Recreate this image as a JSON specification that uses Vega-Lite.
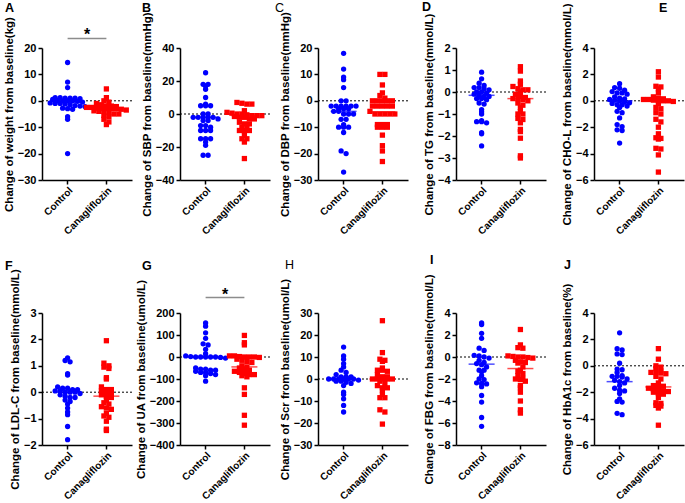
{
"$schema":"https://vega.github.io/schema/vega-lite/v6.json",
"padding":{"left":3,"top":0,"right":0,"bottom":0},
"background":"white",
"config":{
 "view":{"stroke":null},
 "axis":{"grid":false,"labelOverlap":false,"domainColor":"black","domainWidth":1.5,"tickColor":"black","tickWidth":1.5,"tickSize":4,"labelFont":"Liberation Sans","labelFontSize":11,"labelFontWeight":"bold","labelColor":"black","labelPadding":2,"titleFont":"Liberation Sans","titleFontSize":11.5,"titleFontWeight":"bold","titleColor":"black","titlePadding":3},
 "axisX":{"labelAngle":-45,"labelFontSize":10,"labelPadding":1},
 "title":{"anchor":"start","frame":"group","baseline":"alphabetic","font":"Liberation Sans","fontSize":12.5,"fontWeight":"bold","color":"black"},
 "point":{"filled":true,"size":28,"opacity":1},
 "tick":{"thickness":1.5,"size":26}
},
"datasets":{
"A":[{"g":"Control","v":14.5},{"g":"Control","v":7.1},{"g":"Control","v":5},{"g":"Control","v":1.2},{"g":"Control","v":1.2},{"g":"Control","v":1},{"g":"Control","v":1},{"g":"Control","v":1},{"g":"Control","v":0.8},{"g":"Control","v":0.5},{"g":"Control","v":0.2},{"g":"Control","v":0},{"g":"Control","v":0},{"g":"Control","v":0},{"g":"Control","v":-0.2},{"g":"Control","v":-0.5},{"g":"Control","v":-0.8},{"g":"Control","v":-1},{"g":"Control","v":-1},{"g":"Control","v":-1.2},{"g":"Control","v":-1.5},{"g":"Control","v":-1.8},{"g":"Control","v":-2},{"g":"Control","v":-2.2},{"g":"Control","v":-2.8},{"g":"Control","v":-3},{"g":"Control","v":-3.2},{"g":"Control","v":-6},{"g":"Control","v":-7},{"g":"Control","v":-20},
{"g":"Canagliflozin","v":4.5},{"g":"Canagliflozin","v":1.2},{"g":"Canagliflozin","v":0},{"g":"Canagliflozin","v":-0.5},{"g":"Canagliflozin","v":-1},{"g":"Canagliflozin","v":-1.5},{"g":"Canagliflozin","v":-2},{"g":"Canagliflozin","v":-2},{"g":"Canagliflozin","v":-2.2},{"g":"Canagliflozin","v":-2.5},{"g":"Canagliflozin","v":-2.5},{"g":"Canagliflozin","v":-2.8},{"g":"Canagliflozin","v":-3},{"g":"Canagliflozin","v":-3},{"g":"Canagliflozin","v":-3},{"g":"Canagliflozin","v":-3},{"g":"Canagliflozin","v":-3.2},{"g":"Canagliflozin","v":-3.5},{"g":"Canagliflozin","v":-3.8},{"g":"Canagliflozin","v":-4},{"g":"Canagliflozin","v":-4},{"g":"Canagliflozin","v":-4.5},{"g":"Canagliflozin","v":-5},{"g":"Canagliflozin","v":-5},{"g":"Canagliflozin","v":-5.5},{"g":"Canagliflozin","v":-6},{"g":"Canagliflozin","v":-7},{"g":"Canagliflozin","v":-8},{"g":"Canagliflozin","v":-9}],
"Am":[{"g":"Control","v":-0.5},{"g":"Canagliflozin","v":-3}],
"B":[{"g":"Control","v":25},{"g":"Control","v":18},{"g":"Control","v":18},{"g":"Control","v":17},{"g":"Control","v":15},{"g":"Control","v":10},{"g":"Control","v":6},{"g":"Control","v":5},{"g":"Control","v":5},{"g":"Control","v":5},{"g":"Control","v":0},{"g":"Control","v":0},{"g":"Control","v":-2},{"g":"Control","v":-2},{"g":"Control","v":-2},{"g":"Control","v":-2},{"g":"Control","v":-2},{"g":"Control","v":-3},{"g":"Control","v":-4},{"g":"Control","v":-4},{"g":"Control","v":-7},{"g":"Control","v":-7},{"g":"Control","v":-8},{"g":"Control","v":-10},{"g":"Control","v":-10},{"g":"Control","v":-10},{"g":"Control","v":-15},{"g":"Control","v":-15},{"g":"Control","v":-15},{"g":"Control","v":-17},{"g":"Control","v":-19},{"g":"Control","v":-25},{"g":"Control","v":-25},
{"g":"Canagliflozin","v":7},{"g":"Canagliflozin","v":6.5},{"g":"Canagliflozin","v":6},{"g":"Canagliflozin","v":6},{"g":"Canagliflozin","v":2},{"g":"Canagliflozin","v":1},{"g":"Canagliflozin","v":0.5},{"g":"Canagliflozin","v":0},{"g":"Canagliflozin","v":0},{"g":"Canagliflozin","v":-0.5},{"g":"Canagliflozin","v":-1},{"g":"Canagliflozin","v":-1},{"g":"Canagliflozin","v":-1},{"g":"Canagliflozin","v":-1.5},{"g":"Canagliflozin","v":-2},{"g":"Canagliflozin","v":-2},{"g":"Canagliflozin","v":-3},{"g":"Canagliflozin","v":-3},{"g":"Canagliflozin","v":-5},{"g":"Canagliflozin","v":-6},{"g":"Canagliflozin","v":-6},{"g":"Canagliflozin","v":-8},{"g":"Canagliflozin","v":-8},{"g":"Canagliflozin","v":-10},{"g":"Canagliflozin","v":-10},{"g":"Canagliflozin","v":-10},{"g":"Canagliflozin","v":-13},{"g":"Canagliflozin","v":-15},{"g":"Canagliflozin","v":-15},{"g":"Canagliflozin","v":-17},{"g":"Canagliflozin","v":-27}],
"Bm":[{"g":"Control","v":-2},{"g":"Canagliflozin","v":-1}],
"C":[{"g":"Control","v":18},{"g":"Control","v":12},{"g":"Control","v":9},{"g":"Control","v":8},{"g":"Control","v":5},{"g":"Control","v":0},{"g":"Control","v":0},{"g":"Control","v":-2},{"g":"Control","v":-2},{"g":"Control","v":-2},{"g":"Control","v":-2},{"g":"Control","v":-2},{"g":"Control","v":-2},{"g":"Control","v":-3},{"g":"Control","v":-3},{"g":"Control","v":-3},{"g":"Control","v":-4},{"g":"Control","v":-4},{"g":"Control","v":-5},{"g":"Control","v":-5},{"g":"Control","v":-5},{"g":"Control","v":-7},{"g":"Control","v":-7},{"g":"Control","v":-9},{"g":"Control","v":-10},{"g":"Control","v":-10},{"g":"Control","v":-10},{"g":"Control","v":-12},{"g":"Control","v":-19},{"g":"Control","v":-20},{"g":"Control","v":-27},
{"g":"Canagliflozin","v":10},{"g":"Canagliflozin","v":10},{"g":"Canagliflozin","v":6},{"g":"Canagliflozin","v":3},{"g":"Canagliflozin","v":2},{"g":"Canagliflozin","v":1},{"g":"Canagliflozin","v":0},{"g":"Canagliflozin","v":0},{"g":"Canagliflozin","v":0},{"g":"Canagliflozin","v":0},{"g":"Canagliflozin","v":0},{"g":"Canagliflozin","v":-2},{"g":"Canagliflozin","v":-2},{"g":"Canagliflozin","v":-2},{"g":"Canagliflozin","v":-2},{"g":"Canagliflozin","v":-2},{"g":"Canagliflozin","v":-4},{"g":"Canagliflozin","v":-5},{"g":"Canagliflozin","v":-5},{"g":"Canagliflozin","v":-5},{"g":"Canagliflozin","v":-5},{"g":"Canagliflozin","v":-5},{"g":"Canagliflozin","v":-9},{"g":"Canagliflozin","v":-9},{"g":"Canagliflozin","v":-9},{"g":"Canagliflozin","v":-10},{"g":"Canagliflozin","v":-10},{"g":"Canagliflozin","v":-10},{"g":"Canagliflozin","v":-13},{"g":"Canagliflozin","v":-17},{"g":"Canagliflozin","v":-19},{"g":"Canagliflozin","v":-23}],
"Cm":[{"g":"Control","v":-4},{"g":"Canagliflozin","v":-4.2}],
"D":[{"g":"Control","v":0.9},{"g":"Control","v":0.6},{"g":"Control","v":0.4},{"g":"Control","v":0.3},{"g":"Control","v":0.2},{"g":"Control","v":0.2},{"g":"Control","v":0.15},{"g":"Control","v":0.1},{"g":"Control","v":0},{"g":"Control","v":0},{"g":"Control","v":-0.05},{"g":"Control","v":-0.1},{"g":"Control","v":-0.15},{"g":"Control","v":-0.2},{"g":"Control","v":-0.2},{"g":"Control","v":-0.3},{"g":"Control","v":-0.3},{"g":"Control","v":-0.35},{"g":"Control","v":-0.5},{"g":"Control","v":-0.55},{"g":"Control","v":-0.8},{"g":"Control","v":-0.9},{"g":"Control","v":-1.0},{"g":"Control","v":-1.3},{"g":"Control","v":-1.35},{"g":"Control","v":-1.35},{"g":"Control","v":-1.4},{"g":"Control","v":-1.85},{"g":"Control","v":-1.9},{"g":"Control","v":-2.45},
{"g":"Canagliflozin","v":1.15},{"g":"Canagliflozin","v":0.95},{"g":"Canagliflozin","v":0.5},{"g":"Canagliflozin","v":0.35},{"g":"Canagliflozin","v":0.25},{"g":"Canagliflozin","v":0.15},{"g":"Canagliflozin","v":0.1},{"g":"Canagliflozin","v":0.1},{"g":"Canagliflozin","v":0},{"g":"Canagliflozin","v":-0.1},{"g":"Canagliflozin","v":-0.2},{"g":"Canagliflozin","v":-0.25},{"g":"Canagliflozin","v":-0.3},{"g":"Canagliflozin","v":-0.3},{"g":"Canagliflozin","v":-0.35},{"g":"Canagliflozin","v":-0.4},{"g":"Canagliflozin","v":-0.5},{"g":"Canagliflozin","v":-0.6},{"g":"Canagliflozin","v":-0.7},{"g":"Canagliflozin","v":-0.9},{"g":"Canagliflozin","v":-1.0},{"g":"Canagliflozin","v":-1.0},{"g":"Canagliflozin","v":-1.2},{"g":"Canagliflozin","v":-1.25},{"g":"Canagliflozin","v":-1.4},{"g":"Canagliflozin","v":-1.7},{"g":"Canagliflozin","v":-1.8},{"g":"Canagliflozin","v":-2.1},{"g":"Canagliflozin","v":-2.9},{"g":"Canagliflozin","v":-3.0}],
"Dm":[{"g":"Control","v":-0.15},{"g":"Canagliflozin","v":-0.3}],
"E":[{"g":"Control","v":1.3},{"g":"Control","v":1.0},{"g":"Control","v":0.95},{"g":"Control","v":0.8},{"g":"Control","v":0.7},{"g":"Control","v":0.6},{"g":"Control","v":0.6},{"g":"Control","v":0.5},{"g":"Control","v":0.3},{"g":"Control","v":0.2},{"g":"Control","v":0.15},{"g":"Control","v":0.1},{"g":"Control","v":0.05},{"g":"Control","v":0},{"g":"Control","v":-0.1},{"g":"Control","v":-0.15},{"g":"Control","v":-0.2},{"g":"Control","v":-0.3},{"g":"Control","v":-0.3},{"g":"Control","v":-0.4},{"g":"Control","v":-0.5},{"g":"Control","v":-0.8},{"g":"Control","v":-0.9},{"g":"Control","v":-1.3},{"g":"Control","v":-1.8},{"g":"Control","v":-1.95},{"g":"Control","v":-2.2},{"g":"Control","v":-2.25},{"g":"Control","v":-3.2},
{"g":"Canagliflozin","v":2.2},{"g":"Canagliflozin","v":1.8},{"g":"Canagliflozin","v":1.1},{"g":"Canagliflozin","v":1.05},{"g":"Canagliflozin","v":0.9},{"g":"Canagliflozin","v":0.6},{"g":"Canagliflozin","v":0.3},{"g":"Canagliflozin","v":0.2},{"g":"Canagliflozin","v":0.15},{"g":"Canagliflozin","v":0.1},{"g":"Canagliflozin","v":0.1},{"g":"Canagliflozin","v":0.05},{"g":"Canagliflozin","v":0.05},{"g":"Canagliflozin","v":0},{"g":"Canagliflozin","v":0},{"g":"Canagliflozin","v":-0.05},{"g":"Canagliflozin","v":-0.2},{"g":"Canagliflozin","v":-0.5},{"g":"Canagliflozin","v":-0.6},{"g":"Canagliflozin","v":-0.9},{"g":"Canagliflozin","v":-1.0},{"g":"Canagliflozin","v":-1.4},{"g":"Canagliflozin","v":-1.6},{"g":"Canagliflozin","v":-2.0},{"g":"Canagliflozin","v":-2.5},{"g":"Canagliflozin","v":-2.8},{"g":"Canagliflozin","v":-2.85},{"g":"Canagliflozin","v":-2.9},{"g":"Canagliflozin","v":-3.6},{"g":"Canagliflozin","v":-3.65},{"g":"Canagliflozin","v":-4.1},{"g":"Canagliflozin","v":-5.4}],
"Em":[{"g":"Control","v":0},{"g":"Canagliflozin","v":0.05}],
"F":[{"g":"Control","v":1.3},{"g":"Control","v":1.2},{"g":"Control","v":1.15},{"g":"Control","v":0.7},{"g":"Control","v":0.65},{"g":"Control","v":0.2},{"g":"Control","v":0.15},{"g":"Control","v":0.15},{"g":"Control","v":0.1},{"g":"Control","v":0.1},{"g":"Control","v":0.05},{"g":"Control","v":0.05},{"g":"Control","v":0},{"g":"Control","v":0},{"g":"Control","v":0},{"g":"Control","v":-0.05},{"g":"Control","v":-0.1},{"g":"Control","v":-0.15},{"g":"Control","v":-0.2},{"g":"Control","v":-0.2},{"g":"Control","v":-0.3},{"g":"Control","v":-0.35},{"g":"Control","v":-0.45},{"g":"Control","v":-0.6},{"g":"Control","v":-0.75},{"g":"Control","v":-0.85},{"g":"Control","v":-1.3},{"g":"Control","v":-1.8},
{"g":"Canagliflozin","v":1.95},{"g":"Canagliflozin","v":1.1},{"g":"Canagliflozin","v":1.0},{"g":"Canagliflozin","v":0.95},{"g":"Canagliflozin","v":0.9},{"g":"Canagliflozin","v":0.55},{"g":"Canagliflozin","v":0.5},{"g":"Canagliflozin","v":0.2},{"g":"Canagliflozin","v":0.1},{"g":"Canagliflozin","v":0.1},{"g":"Canagliflozin","v":0.05},{"g":"Canagliflozin","v":0},{"g":"Canagliflozin","v":-0.05},{"g":"Canagliflozin","v":-0.1},{"g":"Canagliflozin","v":-0.15},{"g":"Canagliflozin","v":-0.2},{"g":"Canagliflozin","v":-0.3},{"g":"Canagliflozin","v":-0.4},{"g":"Canagliflozin","v":-0.45},{"g":"Canagliflozin","v":-0.55},{"g":"Canagliflozin","v":-0.6},{"g":"Canagliflozin","v":-0.65},{"g":"Canagliflozin","v":-0.8},{"g":"Canagliflozin","v":-0.9},{"g":"Canagliflozin","v":-0.95},{"g":"Canagliflozin","v":-1.1},{"g":"Canagliflozin","v":-1.4},{"g":"Canagliflozin","v":-1.45}],
"Fm":[{"g":"Control","v":0},{"g":"Canagliflozin","v":-0.15}],
"G":[{"g":"Control","v":155},{"g":"Control","v":140},{"g":"Control","v":110},{"g":"Control","v":85},{"g":"Control","v":60},{"g":"Control","v":55},{"g":"Control","v":35},{"g":"Control","v":15},{"g":"Control","v":5},{"g":"Control","v":2},{"g":"Control","v":0},{"g":"Control","v":0},{"g":"Control","v":0},{"g":"Control","v":0},{"g":"Control","v":0},{"g":"Control","v":-2},{"g":"Control","v":-5},{"g":"Control","v":-50},{"g":"Control","v":-55},{"g":"Control","v":-55},{"g":"Control","v":-60},{"g":"Control","v":-60},{"g":"Control","v":-65},{"g":"Control","v":-70},{"g":"Control","v":-70},{"g":"Control","v":-75},{"g":"Control","v":-80},{"g":"Control","v":-85},{"g":"Control","v":-110},
{"g":"Canagliflozin","v":98},{"g":"Canagliflozin","v":65},{"g":"Canagliflozin","v":55},{"g":"Canagliflozin","v":5},{"g":"Canagliflozin","v":5},{"g":"Canagliflozin","v":2},{"g":"Canagliflozin","v":0},{"g":"Canagliflozin","v":0},{"g":"Canagliflozin","v":0},{"g":"Canagliflozin","v":-2},{"g":"Canagliflozin","v":-10},{"g":"Canagliflozin","v":-15},{"g":"Canagliflozin","v":-20},{"g":"Canagliflozin","v":-25},{"g":"Canagliflozin","v":-40},{"g":"Canagliflozin","v":-45},{"g":"Canagliflozin","v":-50},{"g":"Canagliflozin","v":-55},{"g":"Canagliflozin","v":-60},{"g":"Canagliflozin","v":-65},{"g":"Canagliflozin","v":-70},{"g":"Canagliflozin","v":-75},{"g":"Canagliflozin","v":-80},{"g":"Canagliflozin","v":-80},{"g":"Canagliflozin","v":-85},{"g":"Canagliflozin","v":-90},{"g":"Canagliflozin","v":-140},{"g":"Canagliflozin","v":-170},{"g":"Canagliflozin","v":-265},{"g":"Canagliflozin","v":-310}],
"Gm":[{"g":"Control","v":0},{"g":"Canagliflozin","v":-45}],
"H":[{"g":"Control","v":14.5},{"g":"Control","v":10.5},{"g":"Control","v":9},{"g":"Control","v":7},{"g":"Control","v":5.5},{"g":"Control","v":4},{"g":"Control","v":3},{"g":"Control","v":2},{"g":"Control","v":1},{"g":"Control","v":1},{"g":"Control","v":1},{"g":"Control","v":0},{"g":"Control","v":0},{"g":"Control","v":0},{"g":"Control","v":0},{"g":"Control","v":0},{"g":"Control","v":0},{"g":"Control","v":-0.5},{"g":"Control","v":-1},{"g":"Control","v":-1},{"g":"Control","v":-1.5},{"g":"Control","v":-2},{"g":"Control","v":-3},{"g":"Control","v":-6},{"g":"Control","v":-7},{"g":"Control","v":-9},{"g":"Control","v":-12},{"g":"Control","v":-15},
{"g":"Canagliflozin","v":26.5},{"g":"Canagliflozin","v":12},{"g":"Canagliflozin","v":9},{"g":"Canagliflozin","v":8.5},{"g":"Canagliflozin","v":8},{"g":"Canagliflozin","v":5},{"g":"Canagliflozin","v":4},{"g":"Canagliflozin","v":4},{"g":"Canagliflozin","v":3.5},{"g":"Canagliflozin","v":2},{"g":"Canagliflozin","v":1},{"g":"Canagliflozin","v":1},{"g":"Canagliflozin","v":0},{"g":"Canagliflozin","v":0},{"g":"Canagliflozin","v":0},{"g":"Canagliflozin","v":0},{"g":"Canagliflozin","v":0},{"g":"Canagliflozin","v":-1},{"g":"Canagliflozin","v":-2},{"g":"Canagliflozin","v":-3},{"g":"Canagliflozin","v":-4},{"g":"Canagliflozin","v":-4},{"g":"Canagliflozin","v":-5},{"g":"Canagliflozin","v":-7},{"g":"Canagliflozin","v":-8.5},{"g":"Canagliflozin","v":-8.5},{"g":"Canagliflozin","v":-14},{"g":"Canagliflozin","v":-15},{"g":"Canagliflozin","v":-20.5}],
"Hm":[{"g":"Control","v":0},{"g":"Canagliflozin","v":0}],
"I":[{"g":"Control","v":3.1},{"g":"Control","v":2.95},{"g":"Control","v":2.15},{"g":"Control","v":1.7},{"g":"Control","v":0.8},{"g":"Control","v":0.6},{"g":"Control","v":0.15},{"g":"Control","v":0.1},{"g":"Control","v":0},{"g":"Control","v":-0.1},{"g":"Control","v":-0.3},{"g":"Control","v":-0.5},{"g":"Control","v":-0.6},{"g":"Control","v":-0.7},{"g":"Control","v":-0.9},{"g":"Control","v":-1.2},{"g":"Control","v":-1.2},{"g":"Control","v":-1.35},{"g":"Control","v":-1.7},{"g":"Control","v":-2.0},{"g":"Control","v":-2.05},{"g":"Control","v":-2.35},{"g":"Control","v":-2.4},{"g":"Control","v":-2.45},{"g":"Control","v":-2.7},{"g":"Control","v":-3.5},{"g":"Control","v":-4.1},{"g":"Control","v":-5.5},{"g":"Control","v":-6.3},
{"g":"Canagliflozin","v":2.5},{"g":"Canagliflozin","v":1.1},{"g":"Canagliflozin","v":0.85},{"g":"Canagliflozin","v":0.8},{"g":"Canagliflozin","v":0.1},{"g":"Canagliflozin","v":0.05},{"g":"Canagliflozin","v":0},{"g":"Canagliflozin","v":0},{"g":"Canagliflozin","v":-0.05},{"g":"Canagliflozin","v":-0.1},{"g":"Canagliflozin","v":-0.3},{"g":"Canagliflozin","v":-0.45},{"g":"Canagliflozin","v":-0.5},{"g":"Canagliflozin","v":-0.55},{"g":"Canagliflozin","v":-0.9},{"g":"Canagliflozin","v":-1.2},{"g":"Canagliflozin","v":-1.3},{"g":"Canagliflozin","v":-1.5},{"g":"Canagliflozin","v":-1.7},{"g":"Canagliflozin","v":-1.95},{"g":"Canagliflozin","v":-2.0},{"g":"Canagliflozin","v":-2.05},{"g":"Canagliflozin","v":-2.2},{"g":"Canagliflozin","v":-2.6},{"g":"Canagliflozin","v":-2.8},{"g":"Canagliflozin","v":-3.2},{"g":"Canagliflozin","v":-4.0},{"g":"Canagliflozin","v":-4.8},{"g":"Canagliflozin","v":-5.1}],
"Im":[{"g":"Control","v":-0.65},{"g":"Canagliflozin","v":-1.05}],
"J":[{"g":"Control","v":2.5},{"g":"Control","v":1.3},{"g":"Control","v":1.2},{"g":"Control","v":0.9},{"g":"Control","v":0.85},{"g":"Control","v":0.2},{"g":"Control","v":-0.25},{"g":"Control","v":-0.3},{"g":"Control","v":-0.5},{"g":"Control","v":-0.75},{"g":"Control","v":-0.8},{"g":"Control","v":-0.8},{"g":"Control","v":-0.85},{"g":"Control","v":-1.0},{"g":"Control","v":-1.1},{"g":"Control","v":-1.2},{"g":"Control","v":-1.3},{"g":"Control","v":-1.5},{"g":"Control","v":-1.7},{"g":"Control","v":-1.85},{"g":"Control","v":-1.9},{"g":"Control","v":-2.1},{"g":"Control","v":-2.5},{"g":"Control","v":-2.7},{"g":"Control","v":-2.75},{"g":"Control","v":-3.6},{"g":"Control","v":-3.7},
{"g":"Canagliflozin","v":1.3},{"g":"Canagliflozin","v":0.5},{"g":"Canagliflozin","v":0},{"g":"Canagliflozin","v":-0.1},{"g":"Canagliflozin","v":-0.2},{"g":"Canagliflozin","v":-0.4},{"g":"Canagliflozin","v":-0.5},{"g":"Canagliflozin","v":-0.5},{"g":"Canagliflozin","v":-0.55},{"g":"Canagliflozin","v":-0.6},{"g":"Canagliflozin","v":-0.8},{"g":"Canagliflozin","v":-1.0},{"g":"Canagliflozin","v":-1.3},{"g":"Canagliflozin","v":-1.5},{"g":"Canagliflozin","v":-1.5},{"g":"Canagliflozin","v":-1.55},{"g":"Canagliflozin","v":-1.7},{"g":"Canagliflozin","v":-1.8},{"g":"Canagliflozin","v":-1.85},{"g":"Canagliflozin","v":-1.9},{"g":"Canagliflozin","v":-1.95},{"g":"Canagliflozin","v":-2.0},{"g":"Canagliflozin","v":-2.1},{"g":"Canagliflozin","v":-2.15},{"g":"Canagliflozin","v":-2.4},{"g":"Canagliflozin","v":-2.8},{"g":"Canagliflozin","v":-2.85},{"g":"Canagliflozin","v":-3.0},{"g":"Canagliflozin","v":-3.05},{"g":"Canagliflozin","v":-3.2},{"g":"Canagliflozin","v":-4.5}],
"Jm":[{"g":"Control","v":-1.2},{"g":"Canagliflozin","v":-1.6}],
"one":[{"k":1}]
},
"vconcat":[
{"hconcat":[
{"title":{"text":"A","offset":2,"dx":-37},"width":90,"height":132,
 "encoding":{"y":{"type":"quantitative","scale":{"domain":[-30,20],"nice":false,"zero":false},"axis":{"values":[20,10,0,-10,-20,-30],"labelOverlap":false,"title":"Change of weight from baseline(kg)"}}},
 "layer":[
 {"data":{"name":"one"},"mark":{"type":"rule","color":"black","strokeDash":[2,2],"strokeWidth":1},"encoding":{"y":{"datum":0}}},
 {"data":{"name":"one"},"mark":{"type":"rule","color":"#8c8c8c","strokeWidth":1.5},"encoding":{"x":{"datum":"Control"},"x2":{"datum":"Canagliflozin"},"y":{"datum":23.6}}},
 {"data":{"name":"one"},"mark":{"type":"text","text":"*","fontSize":16,"fontWeight":"bold","font":"Liberation Sans","baseline":"alphabetic","dy":2,"color":"black"},"encoding":{"x":{"datum":"Control","bandPosition":1},"y":{"datum":23.6}}},
 {"data":{"name":"A"},"transform":[{"calculate":"floor(datum.v/1.5+0.5)","as":"row"},{"window":[{"op":"row_number","as":"k"},{"op":"count","as":"n"}],"groupby":["g","row"],"sort":[{"field":"v","order":"descending"}],"frame":[null,null]},{"calculate":"datum.k-(datum.n+1)/2","as":"off"}],
  "mark":{"type":"point"},"encoding":{"x":{"field":"g","type":"nominal","scale":{"type":"band","domain":["Control","Canagliflozin"],"paddingInner":0,"paddingOuter":0.16},"axis":{"title":null}},"xOffset":{"field":"off","type":"quantitative","scale":{"domain":[-3.9,3.9]}},"y":{"field":"v"},"color":{"field":"g","type":"nominal","scale":{"domain":["Control","Canagliflozin"],"range":["#0000ff","#ff0000"]},"legend":null},"shape":{"field":"g","type":"nominal","scale":{"domain":["Control","Canagliflozin"],"range":["circle","square"]},"legend":null}}},
 {"data":{"name":"Am"},"mark":{"type":"tick"},"encoding":{"x":{"field":"g","type":"nominal"},"y":{"field":"v"},"color":{"field":"g","type":"nominal","legend":null}}}
]},
{"title":{"text":"B","offset":-3,"dx":-38},"width":90,"height":132,
 "encoding":{"y":{"type":"quantitative","scale":{"domain":[-40,40],"nice":false,"zero":false},"axis":{"values":[40,20,0,-20,-40],"labelOverlap":false,"title":"Change of SBP from baseline(mmHg)"}}},
 "layer":[
 {"data":{"name":"one"},"mark":{"type":"rule","color":"black","strokeDash":[2,2],"strokeWidth":1},"encoding":{"y":{"datum":0}}},
 {"data":{"name":"B"},"transform":[{"calculate":"floor(datum.v/2.4+0.5)","as":"row"},{"window":[{"op":"row_number","as":"k"},{"op":"count","as":"n"}],"groupby":["g","row"],"sort":[{"field":"v","order":"descending"}],"frame":[null,null]},{"calculate":"datum.k-(datum.n+1)/2","as":"off"}],
  "mark":{"type":"point"},"encoding":{"x":{"field":"g","type":"nominal","scale":{"type":"band","domain":["Control","Canagliflozin"],"paddingInner":0,"paddingOuter":0.16},"axis":{"title":null}},"xOffset":{"field":"off","type":"quantitative","scale":{"domain":[-3.9,3.9]}},"y":{"field":"v"},"color":{"field":"g","type":"nominal","scale":{"domain":["Control","Canagliflozin"],"range":["#0000ff","#ff0000"]},"legend":null},"shape":{"field":"g","type":"nominal","scale":{"domain":["Control","Canagliflozin"],"range":["circle","square"]},"legend":null}}},
 {"data":{"name":"Bm"},"mark":{"type":"tick"},"encoding":{"x":{"field":"g","type":"nominal"},"y":{"field":"v"},"color":{"field":"g","type":"nominal","legend":null}}}
]},
{"title":{"text":"C","offset":-3,"dx":-43,"fontWeight":"normal"},"width":90,"height":132,
 "encoding":{"y":{"type":"quantitative","scale":{"domain":[-30,20],"nice":false,"zero":false},"axis":{"values":[20,10,0,-10,-20,-30],"labelOverlap":false,"title":"Change of DBP from baseline(mmHg)"}}},
 "layer":[
 {"data":{"name":"one"},"mark":{"type":"rule","color":"black","strokeDash":[2,2],"strokeWidth":1},"encoding":{"y":{"datum":0}}},
 {"data":{"name":"C"},"transform":[{"calculate":"floor(datum.v/1.5+0.5)","as":"row"},{"window":[{"op":"row_number","as":"k"},{"op":"count","as":"n"}],"groupby":["g","row"],"sort":[{"field":"v","order":"descending"}],"frame":[null,null]},{"calculate":"datum.k-(datum.n+1)/2","as":"off"}],
  "mark":{"type":"point"},"encoding":{"x":{"field":"g","type":"nominal","scale":{"type":"band","domain":["Control","Canagliflozin"],"paddingInner":0,"paddingOuter":0.16},"axis":{"title":null}},"xOffset":{"field":"off","type":"quantitative","scale":{"domain":[-3.9,3.9]}},"y":{"field":"v"},"color":{"field":"g","type":"nominal","scale":{"domain":["Control","Canagliflozin"],"range":["#0000ff","#ff0000"]},"legend":null},"shape":{"field":"g","type":"nominal","scale":{"domain":["Control","Canagliflozin"],"range":["circle","square"]},"legend":null}}},
 {"data":{"name":"Cm"},"mark":{"type":"tick"},"encoding":{"x":{"field":"g","type":"nominal"},"y":{"field":"v"},"color":{"field":"g","type":"nominal","legend":null}}}
]},
{"title":{"text":"D","offset":0,"dx":-34},"width":90,"height":132,
 "encoding":{"y":{"type":"quantitative","scale":{"domain":[-4,2],"nice":false,"zero":false},"axis":{"values":[2,1,0,-1,-2,-3,-4],"labelOverlap":false,"title":"Change of TG from baseline(mmol/L)"}}},
 "layer":[
 {"data":{"name":"one"},"mark":{"type":"rule","color":"black","strokeDash":[2,2],"strokeWidth":1},"encoding":{"y":{"datum":0}}},
 {"data":{"name":"D"},"transform":[{"calculate":"floor(datum.v/0.18+0.5)","as":"row"},{"window":[{"op":"row_number","as":"k"},{"op":"count","as":"n"}],"groupby":["g","row"],"sort":[{"field":"v","order":"descending"}],"frame":[null,null]},{"calculate":"datum.k-(datum.n+1)/2","as":"off"}],
  "mark":{"type":"point"},"encoding":{"x":{"field":"g","type":"nominal","scale":{"type":"band","domain":["Control","Canagliflozin"],"paddingInner":0,"paddingOuter":0.16},"axis":{"title":null}},"xOffset":{"field":"off","type":"quantitative","scale":{"domain":[-3.9,3.9]}},"y":{"field":"v"},"color":{"field":"g","type":"nominal","scale":{"domain":["Control","Canagliflozin"],"range":["#0000ff","#ff0000"]},"legend":null},"shape":{"field":"g","type":"nominal","scale":{"domain":["Control","Canagliflozin"],"range":["circle","square"]},"legend":null}}},
 {"data":{"name":"Dm"},"mark":{"type":"tick"},"encoding":{"x":{"field":"g","type":"nominal"},"y":{"field":"v"},"color":{"field":"g","type":"nominal","legend":null}}}
]},
{"title":{"text":"E","offset":-12,"dx":65},"width":90,"height":132,
 "encoding":{"y":{"type":"quantitative","scale":{"domain":[-6,4],"nice":false,"zero":false},"axis":{"values":[4,2,0,-2,-4,-6],"labelOverlap":false,"title":"Change of CHO-L from baseline(mmol/L)"}}},
 "layer":[
 {"data":{"name":"one"},"mark":{"type":"rule","color":"black","strokeDash":[2,2],"strokeWidth":1},"encoding":{"y":{"datum":0}}},
 {"data":{"name":"E"},"transform":[{"calculate":"floor(datum.v/0.3+0.5)","as":"row"},{"window":[{"op":"row_number","as":"k"},{"op":"count","as":"n"}],"groupby":["g","row"],"sort":[{"field":"v","order":"descending"}],"frame":[null,null]},{"calculate":"datum.k-(datum.n+1)/2","as":"off"}],
  "mark":{"type":"point"},"encoding":{"x":{"field":"g","type":"nominal","scale":{"type":"band","domain":["Control","Canagliflozin"],"paddingInner":0,"paddingOuter":0.16},"axis":{"title":null}},"xOffset":{"field":"off","type":"quantitative","scale":{"domain":[-3.9,3.9]}},"y":{"field":"v"},"color":{"field":"g","type":"nominal","scale":{"domain":["Control","Canagliflozin"],"range":["#0000ff","#ff0000"]},"legend":null},"shape":{"field":"g","type":"nominal","scale":{"domain":["Control","Canagliflozin"],"range":["circle","square"]},"legend":null}}},
 {"data":{"name":"Em"},"mark":{"type":"tick"},"encoding":{"x":{"field":"g","type":"nominal"},"y":{"field":"v"},"color":{"field":"g","type":"nominal","legend":null}}}
]}
],"spacing":48,"bounds":"flush"},
{"hconcat":[
{"title":{"text":"F","offset":-4,"dx":-37},"width":90,"height":132,
 "encoding":{"y":{"type":"quantitative","scale":{"domain":[-2,3],"nice":false,"zero":false},"axis":{"values":[3,2,1,0,-1,-2],"labelOverlap":false,"title":"Change of LDL-C from baseline(mmol/L)"}}},
 "layer":[
 {"data":{"name":"one"},"mark":{"type":"rule","color":"black","strokeDash":[2,2],"strokeWidth":1},"encoding":{"y":{"datum":0}}},
 {"data":{"name":"F"},"transform":[{"calculate":"floor(datum.v/0.15+0.5)","as":"row"},{"window":[{"op":"row_number","as":"k"},{"op":"count","as":"n"}],"groupby":["g","row"],"sort":[{"field":"v","order":"descending"}],"frame":[null,null]},{"calculate":"datum.k-(datum.n+1)/2","as":"off"}],
  "mark":{"type":"point"},"encoding":{"x":{"field":"g","type":"nominal","scale":{"type":"band","domain":["Control","Canagliflozin"],"paddingInner":0,"paddingOuter":0.16},"axis":{"title":null}},"xOffset":{"field":"off","type":"quantitative","scale":{"domain":[-3.9,3.9]}},"y":{"field":"v"},"color":{"field":"g","type":"nominal","scale":{"domain":["Control","Canagliflozin"],"range":["#0000ff","#ff0000"]},"legend":null},"shape":{"field":"g","type":"nominal","scale":{"domain":["Control","Canagliflozin"],"range":["circle","square"]},"legend":null}}},
 {"data":{"name":"Fm"},"mark":{"type":"tick"},"encoding":{"x":{"field":"g","type":"nominal"},"y":{"field":"v"},"color":{"field":"g","type":"nominal","legend":null}}}
]},
{"title":{"text":"G","offset":7,"dx":-38},"width":90,"height":132,
 "encoding":{"y":{"type":"quantitative","scale":{"domain":[-400,200],"nice":false,"zero":false},"axis":{"values":[200,100,0,-100,-200,-300,-400],"labelOverlap":false,"title":"Change of UA from baseline(umol/L)"}}},
 "layer":[
 {"data":{"name":"one"},"mark":{"type":"rule","color":"black","strokeDash":[2,2],"strokeWidth":1},"encoding":{"y":{"datum":0}}},
 {"data":{"name":"one"},"mark":{"type":"rule","color":"#8c8c8c","strokeWidth":1.5},"encoding":{"x":{"datum":"Control"},"x2":{"datum":"Canagliflozin"},"y":{"datum":270}}},
 {"data":{"name":"one"},"mark":{"type":"text","text":"*","fontSize":16,"fontWeight":"bold","font":"Liberation Sans","baseline":"alphabetic","dy":2,"color":"black"},"encoding":{"x":{"datum":"Control","bandPosition":1},"y":{"datum":270}}},
 {"data":{"name":"G"},"transform":[{"calculate":"floor(datum.v/18+0.5)","as":"row"},{"window":[{"op":"row_number","as":"k"},{"op":"count","as":"n"}],"groupby":["g","row"],"sort":[{"field":"v","order":"descending"}],"frame":[null,null]},{"calculate":"datum.k-(datum.n+1)/2","as":"off"}],
  "mark":{"type":"point"},"encoding":{"x":{"field":"g","type":"nominal","scale":{"type":"band","domain":["Control","Canagliflozin"],"paddingInner":0,"paddingOuter":0.16},"axis":{"title":null}},"xOffset":{"field":"off","type":"quantitative","scale":{"domain":[-3.9,3.9]}},"y":{"field":"v"},"color":{"field":"g","type":"nominal","scale":{"domain":["Control","Canagliflozin"],"range":["#0000ff","#ff0000"]},"legend":null},"shape":{"field":"g","type":"nominal","scale":{"domain":["Control","Canagliflozin"],"range":["circle","square"]},"legend":null}}},
 {"data":{"name":"Gm"},"mark":{"type":"tick"},"encoding":{"x":{"field":"g","type":"nominal"},"y":{"field":"v"},"color":{"field":"g","type":"nominal","legend":null}}}
]},
{"title":{"text":"H","offset":7,"dx":-33,"fontWeight":"normal"},"width":90,"height":132,
 "encoding":{"y":{"type":"quantitative","scale":{"domain":[-30,30],"nice":false,"zero":false},"axis":{"values":[30,20,10,0,-10,-20,-30],"labelOverlap":false,"title":"Change of Scr from baseline(umol/L)"}}},
 "layer":[
 {"data":{"name":"one"},"mark":{"type":"rule","color":"black","strokeDash":[2,2],"strokeWidth":1},"encoding":{"y":{"datum":0}}},
 {"data":{"name":"H"},"transform":[{"calculate":"floor(datum.v/1.8+0.5)","as":"row"},{"window":[{"op":"row_number","as":"k"},{"op":"count","as":"n"}],"groupby":["g","row"],"sort":[{"field":"v","order":"descending"}],"frame":[null,null]},{"calculate":"datum.k-(datum.n+1)/2","as":"off"}],
  "mark":{"type":"point"},"encoding":{"x":{"field":"g","type":"nominal","scale":{"type":"band","domain":["Control","Canagliflozin"],"paddingInner":0,"paddingOuter":0.16},"axis":{"title":null}},"xOffset":{"field":"off","type":"quantitative","scale":{"domain":[-3.9,3.9]}},"y":{"field":"v"},"color":{"field":"g","type":"nominal","scale":{"domain":["Control","Canagliflozin"],"range":["#0000ff","#ff0000"]},"legend":null},"shape":{"field":"g","type":"nominal","scale":{"domain":["Control","Canagliflozin"],"range":["circle","square"]},"legend":null}}},
 {"data":{"name":"Hm"},"mark":{"type":"tick"},"encoding":{"x":{"field":"g","type":"nominal"},"y":{"field":"v"},"color":{"field":"g","type":"nominal","legend":null}}}
]},
{"title":{"text":"I","offset":7,"dx":-26},"width":90,"height":132,
 "encoding":{"y":{"type":"quantitative","scale":{"domain":[-8,4],"nice":false,"zero":false},"axis":{"values":[4,2,0,-2,-4,-6,-8],"labelOverlap":false,"title":"Change of FBG from baseline(mmol/L)"}}},
 "layer":[
 {"data":{"name":"one"},"mark":{"type":"rule","color":"black","strokeDash":[2,2],"strokeWidth":1},"encoding":{"y":{"datum":0}}},
 {"data":{"name":"I"},"transform":[{"calculate":"floor(datum.v/0.36+0.5)","as":"row"},{"window":[{"op":"row_number","as":"k"},{"op":"count","as":"n"}],"groupby":["g","row"],"sort":[{"field":"v","order":"descending"}],"frame":[null,null]},{"calculate":"datum.k-(datum.n+1)/2","as":"off"}],
  "mark":{"type":"point"},"encoding":{"x":{"field":"g","type":"nominal","scale":{"type":"band","domain":["Control","Canagliflozin"],"paddingInner":0,"paddingOuter":0.16},"axis":{"title":null}},"xOffset":{"field":"off","type":"quantitative","scale":{"domain":[-3.9,3.9]}},"y":{"field":"v"},"color":{"field":"g","type":"nominal","scale":{"domain":["Control","Canagliflozin"],"range":["#0000ff","#ff0000"]},"legend":null},"shape":{"field":"g","type":"nominal","scale":{"domain":["Control","Canagliflozin"],"range":["circle","square"]},"legend":null}}},
 {"data":{"name":"Im"},"mark":{"type":"tick"},"encoding":{"x":{"field":"g","type":"nominal"},"y":{"field":"v"},"color":{"field":"g","type":"nominal","legend":null}}}
]},
{"title":{"text":"J","offset":12,"dx":-30},"width":90,"height":132,
 "encoding":{"y":{"type":"quantitative","scale":{"domain":[-6,4],"nice":false,"zero":false},"axis":{"values":[4,2,0,-2,-4,-6],"labelOverlap":false,"title":"Change of HbA1c from baseline(%)"}}},
 "layer":[
 {"data":{"name":"one"},"mark":{"type":"rule","color":"black","strokeDash":[2,2],"strokeWidth":1},"encoding":{"y":{"datum":0}}},
 {"data":{"name":"J"},"transform":[{"calculate":"floor(datum.v/0.3+0.5)","as":"row"},{"window":[{"op":"row_number","as":"k"},{"op":"count","as":"n"}],"groupby":["g","row"],"sort":[{"field":"v","order":"descending"}],"frame":[null,null]},{"calculate":"datum.k-(datum.n+1)/2","as":"off"}],
  "mark":{"type":"point"},"encoding":{"x":{"field":"g","type":"nominal","scale":{"type":"band","domain":["Control","Canagliflozin"],"paddingInner":0,"paddingOuter":0.16},"axis":{"title":null}},"xOffset":{"field":"off","type":"quantitative","scale":{"domain":[-3.9,3.9]}},"y":{"field":"v"},"color":{"field":"g","type":"nominal","scale":{"domain":["Control","Canagliflozin"],"range":["#0000ff","#ff0000"]},"legend":null},"shape":{"field":"g","type":"nominal","scale":{"domain":["Control","Canagliflozin"],"range":["circle","square"]},"legend":null}}},
 {"data":{"name":"Jm"},"mark":{"type":"tick"},"encoding":{"x":{"field":"g","type":"nominal"},"y":{"field":"v"},"color":{"field":"g","type":"nominal","legend":null}}}
]}
],"spacing":48,"bounds":"flush"}
],"spacing":265,"bounds":"flush"
}
